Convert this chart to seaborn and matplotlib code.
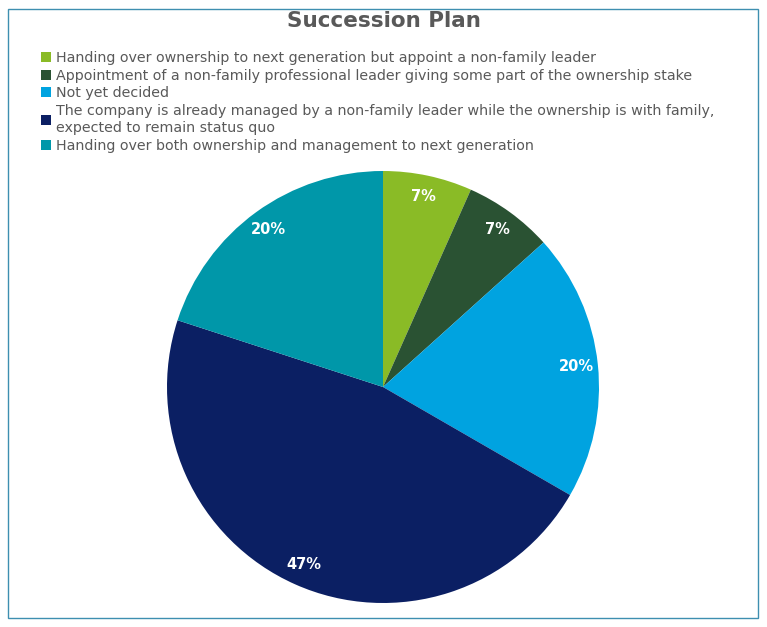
import matplotlib
matplotlib.use("Agg")
import matplotlib.pyplot as plt
import seaborn as sns
from matplotlib.patches import Patch, Rectangle

sns.set_theme(style="white")
plt.rcParams['font.family'] = ['DejaVu Sans']

# data
kategori = [
    "Handing over ownership to next generation but appoint a non-family leader",
    "Appointment of a non-family professional leader giving some part of the ownership stake",
    "Not yet decided",
    "The company is already managed by a non-family leader while the ownership is with family,\nexpected to remain status quo",
    "Handing over both ownership and management to next generation",
]
jumlah = [1, 1, 3, 7, 3]
warna = ["#8ABB26", "#2A5233", "#00A3E0", "#0B1F63", "#0097A9"]

fig = plt.figure(figsize=(7.67, 6.27), dpi=100)

# border
fig.patches.append(Rectangle((8 / 767, 9 / 627), 750 / 767, 609 / 627,
                             transform=fig.transFigure, fill=False,
                             edgecolor="#3E8FB0", linewidth=1))

fig.text(0.5, 1 - 21 / 627, "Succession Plan", ha="center", va="center",
         fontsize=15.5, fontweight="bold", color="#595959")

# pie
ax = fig.add_axes([(383 - 216) / 767, 1 - (387 + 216) / 627, 432 / 767, 432 / 627])
wedges, texts, autotexts = ax.pie(
    jumlah, colors=warna, startangle=90, counterclock=False,
    autopct=lambda p: f"{p:.0f}%", pctdistance=0.9,
    wedgeprops=dict(linewidth=0),
    textprops=dict(color="white", fontsize=10.5, fontweight="bold"))
ax.set_xlim(-1, 1)
ax.set_ylim(-1, 1)
ax.set_aspect("equal")

# legend
handles = [Patch(facecolor=c, edgecolor="none") for c in warna]
leg = fig.legend(handles, kategori, loc="upper left", bbox_to_anchor=(41 / 767, 1 - 51 / 627),
                 frameon=False, fontsize=10.3, labelcolor="#595959",
                 handlelength=0.7, handleheight=0.7, handletextpad=0.35,
                 labelspacing=0.26, borderaxespad=0, borderpad=0)
for t in leg.get_texts():
    t.set_linespacing(1.3)

fig.savefig("out.png", dpi=100)
